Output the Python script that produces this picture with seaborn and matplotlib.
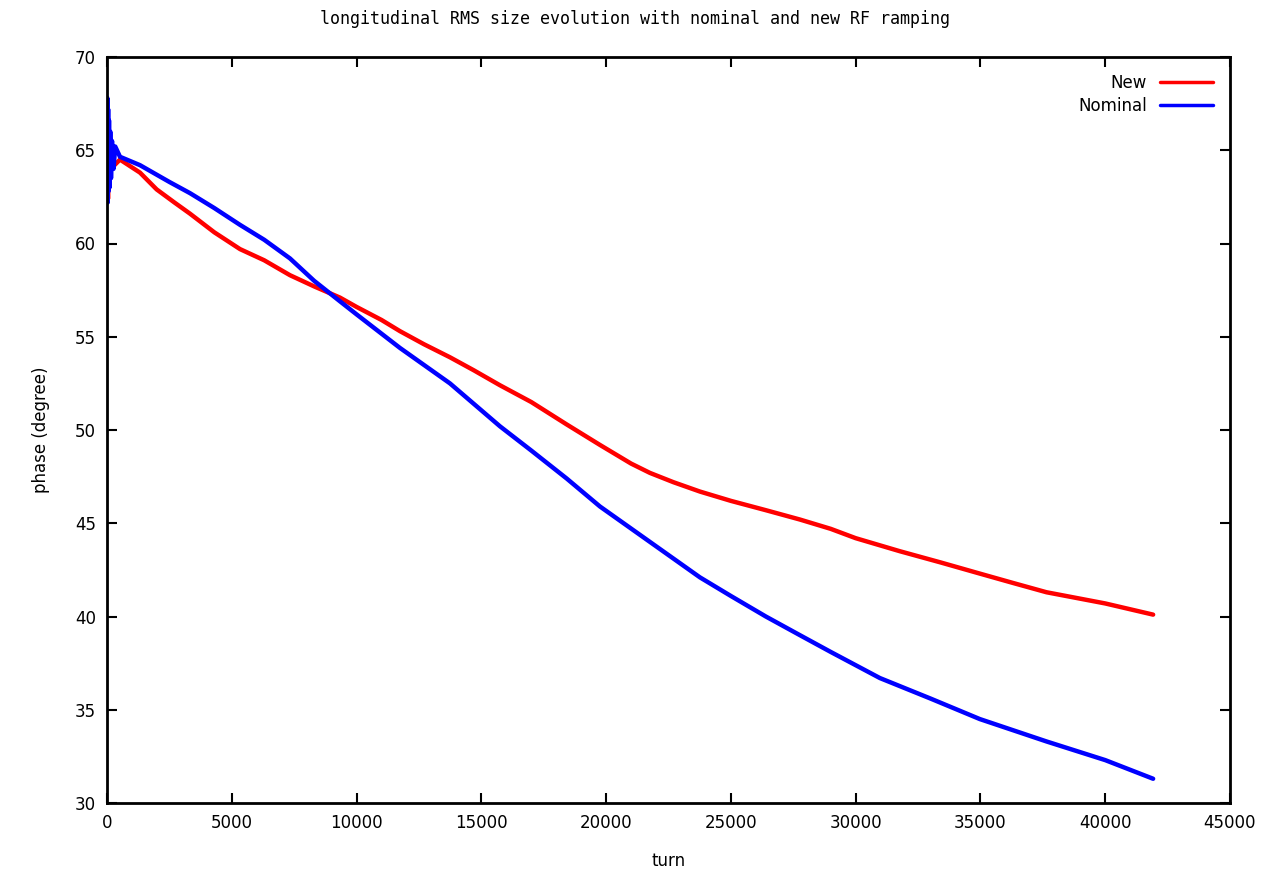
import matplotlib
matplotlib.use("Agg")
import matplotlib.pyplot as plt
import seaborn as sns
import pandas as pd

# Values
new_turns = [0, 20, 40, 60, 80, 100, 150, 200, 300, 520, 1322, 1990, 2700, 3325, 4300, 5329,
             6300, 7332, 8300, 9335, 10000, 11000, 11739, 12700, 13742, 14700, 15745, 17000,
             18418, 19752, 21000, 21755, 22700, 23758, 25000, 26400, 27764, 29000, 30000,
             31771, 33400, 34976, 36300, 37647, 40000, 41920]
new_phase = [64.0, 65.8, 62.4, 65.2, 63.2, 64.9, 63.8, 64.8, 64.2, 64.5, 63.8, 62.9, 62.2, 61.6, 60.6, 59.7,
             59.1, 58.3, 57.7, 57.1, 56.6, 55.9, 55.3, 54.6, 53.9, 53.2, 52.4, 51.5,
             50.3, 49.2, 48.2, 47.7, 47.2, 46.7, 46.2, 45.7, 45.2, 44.7, 44.2,
             43.5, 42.9, 42.3, 41.8, 41.3, 40.7, 40.1]

nom_turns = [0, 15, 30, 45, 60, 80, 100, 130, 160, 200, 260, 330, 520, 1322, 2500, 3325, 4300,
             5329, 6300, 7332, 8300, 9335, 10000, 11739, 13742, 15745, 17000, 18418, 19752,
             21755, 23758, 25000, 26400, 27764, 29000, 30970, 33000, 34976, 37647, 40000, 41920]
nom_phase = [64.5, 67.8, 62.2, 67.2, 62.8, 66.6, 63.0, 66.0, 63.5, 65.5, 64.0, 65.2, 64.65, 64.2, 63.3, 62.7, 61.9,
             61.0, 60.2, 59.2, 58.0, 56.9, 56.2, 54.4, 52.5, 50.2, 48.9, 47.4, 45.9,
             44.0, 42.1, 41.1, 40.0, 39.0, 38.1, 36.7, 35.6, 34.5, 33.3, 32.3, 31.3]

series_names = ["New", "Nominal"]
colors = {"New": "#ff0000", "Nominal": "#0000ff"}

df = pd.concat([
    pd.DataFrame({"turn": new_turns, "phase": new_phase, "series": "New"}),
    pd.DataFrame({"turn": nom_turns, "phase": nom_phase, "series": "Nominal"}),
], ignore_index=True)

sns.set_style("ticks")
plt.rcParams["font.family"] = ["DejaVu Sans"]
plt.rcParams["text.color"] = "black"
plt.rcParams["axes.labelcolor"] = "black"

fig = plt.figure(figsize=(12.69, 8.82), dpi=100)
ax = fig.add_axes([107 / 1269, 1 - 803 / 882, (1230 - 107) / 1269, (803 - 57) / 882])

sns.lineplot(data=df, x="turn", y="phase", hue="series", hue_order=series_names,
             palette=colors, linewidth=3.2, estimator=None, sort=False, ax=ax)

ax.set_xlim(0, 45000)
ax.set_ylim(30, 70)
ax.set_xticks(range(0, 45001, 5000))
ax.set_yticks(range(30, 71, 5))
ax.tick_params(direction="in", top=True, right=True, length=7, width=1.5,
               labelsize=12, colors="black", pad=8)
for s in ax.spines.values():
    s.set_linewidth(2)
    s.set_color("black")

ax.set_xlabel("turn", fontsize=12, labelpad=14, color="black")
ax.set_ylabel("phase (degree)", fontsize=12, labelpad=18, color="black")
fig.text(0.5, 1 - 19 / 882, "longitudinal RMS size evolution with nominal and new RF ramping",
         ha="center", va="center", fontsize=12, family="DejaVu Sans Mono", color="black")

leg = ax.legend(loc="upper right", frameon=False, markerfirst=False, fontsize=12,
                handlelength=3.2, borderaxespad=0.6, labelspacing=0.3, handletextpad=0.8,
                labelcolor="black")
for line in leg.get_lines():
    line.set_linewidth(2.5)

fig.savefig("out.png", dpi=100)
